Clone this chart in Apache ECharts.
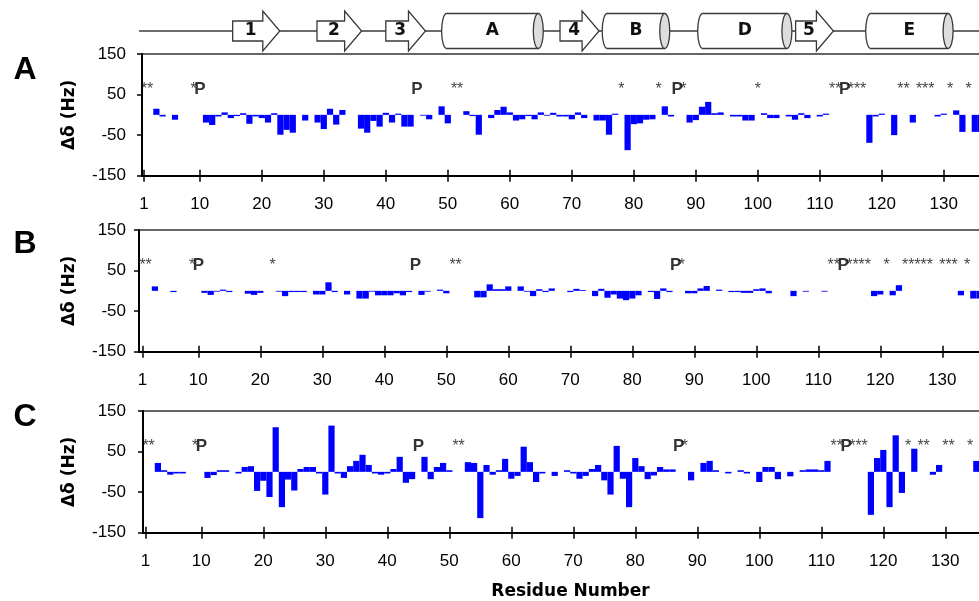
<!DOCTYPE html>
<html><head><meta charset="utf-8">
<script src="https://cdn.jsdelivr.net/npm/echarts@6/dist/echarts.min.js"></script>
<style>html,body{margin:0;padding:0;background:#fff}#c{width:979px;height:601px}</style>
</head><body><div id="c"></div>
<script>
// ---------- data ----------
const tickResidues = [1, 10, 20, 30, 40, 50, 60, 70, 80, 90, 100, 110, 120, 130];
const yMin = -150, yMax = 150, yStep = 100;
const panelLetters = ['A', 'B', 'C'];
const prolines = [10, 45, 87, 114];
const starsA = [1, 2, 9, 51, 52, 78, 84, 88, 100, 112, 113, 115, 116, 117, 123, 124, 126, 127, 128, 131, 134];
const starsB = [1, 2, 9, 22, 51, 52, 88, 112, 113, 115, 116, 117, 118, 121, 124, 125, 126, 127, 128, 130, 131, 132, 134];
const starsC = [1, 2, 9, 51, 52, 88, 112, 113, 115, 116, 117, 124, 126, 127, 130, 131, 134];
const shiftsA = [[3,15],[4,-4],[6,-12],[11,-19],[12,-25],[13,-4],[14,6],[15,-8],[16,-3],[17,4],[18,-22],[19,-4],[20,-8],[21,-19],[22,4],[23,-49],[24,-37],[25,-44],[27,-14],[29,-19],[30,-35],[31,15],[32,-24],[33,12],[36,-34],[37,-44],[38,-15],[39,-29],[40,5],[41,-19],[42,3],[43,-29],[44,-29],[46,-2],[47,-11],[49,21],[50,-21],[53,9],[54,-3],[55,-49],[57,-8],[58,12],[59,20],[60,6],[61,-14],[62,-11],[63,-3],[64,-11],[65,6],[66,-2],[67,5],[68,-4],[69,-4],[70,-11],[71,6],[72,-8],[74,-14],[75,-14],[76,-49],[77,3],[79,-87],[80,-23],[81,-21],[82,-12],[83,-11],[85,21],[86,-4],[89,-19],[90,-13],[91,20],[92,32],[93,4],[94,6],[96,-4],[97,-4],[98,-14],[99,-14],[101,4],[102,-8],[103,-8],[105,-4],[106,-12],[107,4],[108,-8],[110,-4],[111,3],[118,-69],[119,-4],[120,3],[122,-50],[125,-19],[129,-4],[130,3],[132,11],[133,-42],[135,-42],[136,-42]];
const shiftsB = [[3,11],[6,-3],[11,-5],[12,-10],[13,-2],[14,3],[15,-3],[18,-7],[19,-10],[20,-5],[23,-2],[24,-13],[25,-3],[26,-3],[27,-3],[29,-9],[30,-9],[31,21],[32,-3],[34,-9],[36,-19],[37,-19],[38,-2],[39,-11],[40,-11],[41,-11],[42,-6],[43,-11],[44,-3],[46,-10],[47,-2],[49,3],[50,-6],[55,-16],[56,-16],[57,16],[58,4],[59,4],[60,11],[62,11],[63,-2],[64,-13],[65,4],[66,-3],[67,6],[70,-3],[71,5],[72,2],[74,-13],[75,5],[76,-17],[77,-9],[78,-19],[79,-23],[80,-19],[81,-11],[83,-3],[84,-20],[85,6],[86,-3],[89,-6],[90,-6],[91,6],[92,12],[94,3],[96,-3],[97,-3],[98,-5],[99,-5],[100,4],[101,6],[102,-6],[106,-13],[108,-2],[111,-2],[119,-13],[120,-9],[122,-11],[123,14],[133,-11],[135,-19],[136,-19]];
const shiftsC = [[3,22],[4,4],[5,-7],[6,-4],[7,-4],[11,-15],[12,-8],[13,4],[14,4],[16,-4],[17,12],[18,14],[19,-47],[20,-22],[21,-62],[22,110],[23,-87],[24,-19],[25,-46],[26,7],[27,12],[28,12],[29,-4],[30,-56],[31,114],[32,-4],[33,-15],[34,14],[35,27],[36,42],[37,17],[38,-4],[39,-7],[40,-4],[41,7],[42,37],[43,-27],[44,-18],[46,37],[47,-18],[48,12],[49,22],[50,4],[53,24],[54,22],[55,-114],[56,17],[57,-7],[58,4],[59,32],[60,-17],[61,-10],[62,62],[63,24],[64,-25],[65,-4],[67,-10],[69,4],[70,-4],[71,-17],[72,-10],[73,7],[74,17],[75,-21],[76,-56],[77,64],[78,-17],[79,-87],[80,34],[81,14],[82,-18],[83,-9],[84,12],[85,6],[86,6],[89,-21],[91,22],[92,27],[93,4],[95,-4],[97,4],[98,-4],[100,-25],[101,12],[102,12],[103,-18],[105,-11],[107,4],[108,6],[109,6],[110,4],[111,27],[118,-106],[119,34],[120,54],[121,-87],[122,90],[123,-52],[125,57],[128,-7],[129,17],[135,27],[136,15]];
// secondary structure: [kind, first residue, last residue, label]
const structure = [
  ['coil', 0.2, 140, ''],
  ['strand', 15.3, 22.9, '1'],
  ['strand', 28.9, 36.1, '2'],
  ['strand', 40.0, 46.4, '3'],
  ['helix', 49.0, 65.4, 'A'],
  ['strand', 68.1, 74.4, '4'],
  ['helix', 74.9, 85.8, 'B'],
  ['helix', 90.3, 105.5, 'D'],
  ['strand', 106.1, 112.2, '5'],
  ['helix', 117.4, 131.5, 'E']
];
const labelLevel = 63;

// ---------- layout ----------
const PX = 6.2;           // pixels per residue
const GW = 855;           // grid width (runs past the right edge like the source)
const GH = 121.7;
const panels = [
  {top: 54,  left: 142, r0: 137.8, lm: 16, ng: 64, shifts: shiftsA, stars: starsA, ly: 70},
  {top: 230, left: 139, r0: 136.3, lm: 13, ng: 61, shifts: shiftsB, stars: starsB, ly: 244},
  {top: 411, left: 143, r0: 139.3, lm: 17, ng: 65, shifts: shiftsC, stars: starsC, ly: 417}
];
const TICKF = '"Liberation Sans", Arial, sans-serif';
const BOLDF = '"DejaVu Sans", Verdana, sans-serif';

const grid = [], xAxis = [], yAxis = [], series = [], graphic = [];
panels.forEach((p, i) => {
  const mn = (p.left - p.r0) / PX, mx = mn + GW / PX;
  grid.push({left: p.left, top: p.top, width: GW, height: GH, show: true, outerBoundsMode: 'none',
    containLabel: false, borderColor: '#333', borderWidth: 1.5, backgroundColor: 'transparent'});
  xAxis.push({type: 'value', gridIndex: i, min: mn, max: mx, position: 'bottom',
    axisLine: {show: true, onZero: false, lineStyle: {color: '#000', width: 2}},
    axisTick: {show: true, length: 6, customValues: tickResidues, lineStyle: {color: '#000', width: 1.5}},
    axisLabel: {show: true, customValues: tickResidues, margin: 20, fontSize: 17, fontFamily: TICKF, color: '#000'},
    splitLine: {show: false},
    name: i === 2 ? 'Residue Number' : '', nameLocation: 'middle', nameGap: 50,
    nameTextStyle: {fontFamily: BOLDF, fontWeight: 'bold', fontSize: 17, color: '#000'}});
  // inward half of the crossing ticks
  xAxis.push({type: 'value', gridIndex: i, min: mn, max: mx, position: 'top', offset: -GH,
    axisLine: {show: false}, axisLabel: {show: false}, splitLine: {show: false},
    axisTick: {show: true, length: 6, customValues: tickResidues, lineStyle: {color: '#000', width: 1.5}}});
  yAxis.push({type: 'value', gridIndex: i, min: yMin, max: yMax, interval: yStep,
    axisLine: {show: true, onZero: false, lineStyle: {color: '#000', width: 2}},
    axisTick: {show: true, length: 5, lineStyle: {color: '#000', width: 1.5}},
    axisLabel: {margin: p.lm, fontSize: 17, fontFamily: TICKF, color: '#000'},
    splitLine: {show: false},
    name: 'Δδ (Hz)', nameLocation: 'middle', nameGap: p.ng, nameRotate: 90,
    nameTextStyle: {fontFamily: BOLDF, fontWeight: 'bold', fontSize: 17, color: '#000'}});
  series.push({type: 'bar', xAxisIndex: 2 * i, yAxisIndex: i, data: p.shifts,
    barWidth: 6.2, itemStyle: {color: '#0000ff'}, silent: true, animation: false});
  series.push({type: 'scatter', xAxisIndex: 2 * i, yAxisIndex: i,
    data: p.stars.map(r => [r, labelLevel]), symbolSize: 1, itemStyle: {color: 'transparent'},
    label: {show: true, position: 'inside', formatter: '*', fontSize: 16, fontFamily: TICKF, color: '#111'},
    animation: false, silent: true});
  series.push({type: 'scatter', xAxisIndex: 2 * i, yAxisIndex: i,
    data: prolines.map(r => [r, labelLevel]), symbolSize: 1, itemStyle: {color: 'transparent'},
    label: {show: true, position: 'inside', formatter: 'P', fontSize: 17, fontWeight: 'bold', fontFamily: TICKF, color: '#000'},
    animation: false, silent: true});
  graphic.push({type: 'text', x: 25, y: p.ly,
    style: {text: panelLetters[i], font: 'bold 32px "Liberation Sans", Arial, sans-serif', fill: '#000',
      align: 'center', verticalAlign: 'middle'}});
});

// topology strip (same residue scale as panel A)
{
  const p = panels[0];
  const mn = (p.left - p.r0) / PX, mx = mn + GW / PX;
  grid.push({left: p.left, top: 8, width: GW, height: 46, show: false, outerBoundsMode: 'none', containLabel: false});
  xAxis.push({type: 'value', gridIndex: 3, min: mn, max: mx, show: false});
  yAxis.push({type: 'value', gridIndex: 3, min: 0, max: 1, show: false});
  series.push({type: 'custom', xAxisIndex: xAxis.length - 1, yAxisIndex: 3, clip: false,
    animation: false, silent: true,
    data: structure.map(s => [s[1], s[2]]),
    renderItem: (params, api) => {
      const s = structure[params.dataIndex];
      const a = api.coord([s[1], 0.5]), b = api.coord([s[2], 0.5]);
      const x1 = a[0], x2 = b[0], y = a[1];
      const stroke = '#3a3a3a';
      if (s[0] === 'coil') {
        return {type: 'line', shape: {x1: x1, y1: y, x2: x2, y2: y}, style: {stroke: stroke, lineWidth: 1.5}};
      }
      const font = 'bold 17px "DejaVu Sans", Verdana, sans-serif';
      if (s[0] === 'strand') {
        const hb = 10, hh = 20, xb = x2 - 17;
        return {type: 'group', children: [
          {type: 'polygon', shape: {points: [[x1, y - hb], [xb, y - hb], [xb, y - hh], [x2, y], [xb, y + hh], [xb, y + hb], [x1, y + hb]]},
            style: {fill: '#fff', stroke: stroke, lineWidth: 1.3}},
          {type: 'text', style: {text: s[3], x: (x1 + xb) / 2 + 3, y: y, align: 'center', verticalAlign: 'middle', font: font, fill: '#111'}}
        ]};
      }
      const ry = 17.5, rx = 5;
      return {type: 'group', children: [
        {type: 'ellipse', shape: {cx: x1 + rx, cy: y, rx: rx, ry: ry}, style: {fill: '#fff', stroke: stroke, lineWidth: 1.3}},
        {type: 'rect', shape: {x: x1 + rx, y: y - ry, width: x2 - x1 - 2 * rx, height: 2 * ry}, style: {fill: '#fff'}},
        {type: 'line', shape: {x1: x1 + rx, y1: y - ry, x2: x2 - rx, y2: y - ry}, style: {stroke: stroke, lineWidth: 1.3}},
        {type: 'line', shape: {x1: x1 + rx, y1: y + ry, x2: x2 - rx, y2: y + ry}, style: {stroke: stroke, lineWidth: 1.3}},
        {type: 'ellipse', shape: {cx: x2 - rx, cy: y, rx: rx, ry: ry}, style: {fill: '#ddd', stroke: stroke, lineWidth: 1.3}},
        {type: 'text', style: {text: s[3], x: (x1 + x2) / 2, y: y, align: 'center', verticalAlign: 'middle', font: font, fill: '#111'}}
      ]};
    }});
}

const chart = echarts.init(document.getElementById('c'), null, {renderer: 'canvas'});
chart.setOption({animation: false, backgroundColor: '#fff', grid, xAxis, yAxis, series, graphic});
</script>
</body></html>
